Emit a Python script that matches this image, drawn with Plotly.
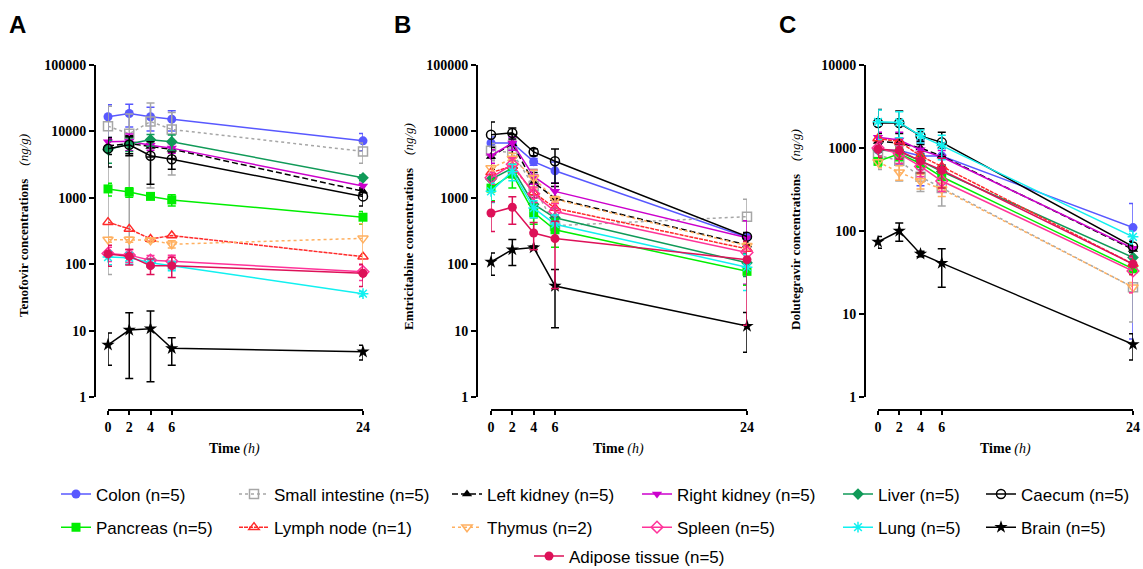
import plotly.graph_objects as go

W, H = 1143, 569

TIME = [0, 2, 4, 6, 24]
TIME_TICKS = [0, 2, 4, 6, 24]

TISSUES = ["Colon", "Small intestine", "Left kidney", "Right kidney", "Liver", "Caecum",
           "Pancreas", "Lymph node", "Thymus", "Spleen", "Lung", "Brain", "Adipose tissue"]
N_ANIMALS = [5, 5, 5, 5, 5, 5, 5, 1, 2, 5, 5, 5, 5]

# ---- Tenofovir (panel A), ng/g : mean and SD
TFV_MEAN = {
    "Colon": [16600, 18600, 16600, 15300, 7200],
    "Small intestine": [12000, 9200, 14100, 10700, 5000],
    "Left kidney": [6000, 6600, 5900, 5400, 1260],
    "Right kidney": [7000, 7100, 6200, 5600, 1500],
    "Liver": [5300, 6500, 7500, 7000, 2000],
    "Caecum": [5500, 6300, 4300, 3800, 1050],
    "Pancreas": [1360, 1220, 1050, 930, 510],
    "Lymph node": [430, 340, 240, 270, 130],
    "Thymus": [235, 235, 230, 200, 245],
    "Spleen": [145, 137, 115, 111, 77],
    "Lung": [128, 125, 105, 95, 36],
    "Brain": [6.1, 10.2, 10.7, 5.4, 4.8],
    "Adipose tissue": [143, 132, 95, 95, 73],
}
TFV_SD = {
    "Colon": [8500, 7000, 6500, 5200, 2100],
    "Small intestine": [11930, 9100, 12700, 8500, 1700],
    "Left kidney": [1500, 2000, 1800, 1500, 150],
    "Right kidney": [800, 2000, 1000, 900, 150],
    "Liver": [2000, 1500, 1500, 1800, 200],
    "Caecum": [2600, 2000, 2700, 1100, 300],
    "Pancreas": [300, 200, 60, 180, 110],
    "Lymph node": [0, 0, 0, 0, 0],
    "Thymus": [20, 20, 15, 25, 160],
    "Spleen": [35, 30, 20, 25, 20],
    "Lung": [30, 25, 15, 15, 3],
    "Brain": [3.1, 8.3, 9, 2.4, 1.2],
    "Adipose tissue": [50, 35, 25, 32, 27],
}

# ---- Emtricitabine (panel B)
FTC_MEAN = {
    "Colon": [6700, 6700, 3500, 2550, 255],
    "Small intestine": [5100, 4800, 1500, 380, 520],
    "Left kidney": [4200, 6500, 1700, 980, 195],
    "Right kidney": [4300, 6700, 2100, 1250, 250],
    "Liver": [1900, 2800, 800, 500, 105],
    "Caecum": [8900, 9500, 4900, 3550, 260],
    "Pancreas": [1400, 2300, 600, 330, 78],
    "Lymph node": [2400, 3000, 1200, 700, 170],
    "Thymus": [2800, 3900, 2000, 950, 190],
    "Spleen": [2000, 3200, 1150, 620, 150],
    "Lung": [1250, 2500, 700, 400, 90],
    "Brain": [108, 166, 178, 47, 11.7],
    "Adipose tissue": [590, 720, 295, 243, 117],
}
FTC_SD = {
    "Colon": [1500, 1500, 400, 900, 40],
    "Small intestine": [1500, 2500, 1200, 150, 430],
    "Left kidney": [1500, 2500, 700, 500, 50],
    "Right kidney": [1000, 1500, 500, 400, 200],
    "Liver": [500, 800, 300, 200, 40],
    "Caecum": [5000, 1800, 600, 1900, 40],
    "Pancreas": [500, 900, 200, 150, 30],
    "Lymph node": [0, 0, 0, 0, 0],
    "Thymus": [300, 800, 600, 100, 20],
    "Spleen": [400, 800, 300, 200, 40],
    "Lung": [400, 700, 200, 150, 50],
    "Brain": [40, 70, 10, 36, 7],
    "Adipose tissue": [280, 320, 130, 200, 105],
}

# ---- Dolutegravir (panel C)
DTG_MEAN = {
    "Colon": [950, 930, 800, 800, 110],
    "Small intestine": [820, 700, 450, 330, 21],
    "Left kidney": [1200, 1150, 1000, 800, 60],
    "Right kidney": [1350, 1250, 950, 780, 62],
    "Liver": [950, 900, 700, 520, 48],
    "Caecum": [2000, 2000, 1400, 1170, 65],
    "Pancreas": [690, 850, 650, 450, 35],
    "Lymph node": [1300, 1200, 800, 600, 40],
    "Thymus": [680, 510, 400, 320, 21],
    "Spleen": [1000, 850, 600, 400, 33],
    "Lung": [2070, 2030, 1400, 1070, 85],
    "Brain": [74, 100, 53, 41, 4.3],
    "Adipose tissue": [970, 930, 700, 540, 40],
}
DTG_SD = {
    "Colon": [300, 300, 450, 200, 105],
    "Small intestine": [270, 300, 150, 130, 13],
    "Left kidney": [300, 350, 200, 200, 10],
    "Right kidney": [200, 300, 200, 150, 15],
    "Liver": [150, 150, 150, 100, 8],
    "Caecum": [900, 800, 300, 380, 10],
    "Pancreas": [100, 150, 150, 120, 5],
    "Lymph node": [0, 0, 0, 0, 0],
    "Thymus": [100, 100, 80, 60, 3],
    "Spleen": [200, 200, 150, 100, 15],
    "Lung": [800, 700, 250, 350, 15],
    "Brain": [12, 25, 4, 20, 1.5],
    "Adipose tissue": [200, 200, 200, 210, 10],
}

DRUGS = ["Tenofovir", "Emtricitabine", "Dolutegravir"]
PANEL_LETTERS = ["A", "B", "C"]
Y_TICKS_AB = [1, 10, 100, 1000, 10000, 100000]
Y_TICKS_C = [1, 10, 100, 1000, 10000]

# ---- styles
COLORS = {
    "Colon": "#5858FF", "Small intestine": "#A6A6A6", "Left kidney": "#000000",
    "Right kidney": "#CC00CC", "Liver": "#109A58", "Caecum": "#000000",
    "Pancreas": "#00EE00", "Lymph node": "#FF2A2A", "Thymus": "#FFB060",
    "Spleen": "#FF3399", "Lung": "#11F0F0", "Brain": "#000000", "Adipose tissue": "#DD1158",
}
SYMBOLS = {
    "Colon": "circle", "Small intestine": "square-open", "Left kidney": "triangle-up",
    "Right kidney": "triangle-down", "Liver": "diamond", "Caecum": "circle-open",
    "Pancreas": "square", "Lymph node": "triangle-up-open", "Thymus": "triangle-down-open",
    "Spleen": "diamond-open", "Lung": "asterisk-open", "Brain": "star", "Adipose tissue": "circle",
}
DASHES = {
    "Small intestine": "dot", "Thymus": "dot", "Left kidney": "6px,3px", "Lymph node": "4px,1px",
}
LEGEND_OF = {
    "Colon": "legend", "Pancreas": "legend",
    "Small intestine": "legend2", "Lymph node": "legend2",
    "Left kidney": "legend3", "Thymus": "legend3",
    "Right kidney": "legend4", "Spleen": "legend4",
    "Liver": "legend5", "Lung": "legend5",
    "Caecum": "legend6", "Brain": "legend6",
    "Adipose tissue": "legend7",
}

SERIF = "Liberation Serif, Times New Roman, serif"
SANS = "Liberation Sans, Arial, sans-serif"

def px(x):
    return x / W

def py(y):
    return 1 - y / H

# panel geometry (pixels)
Y_AXIS_X = [95, 477, 865]
X_DOM = [(108, 363), (491, 747), (878, 1133)]
Y_TOP, Y_BOT, X_LINE = 65, 397, 410

fig = go.Figure()
data_sets = [(TFV_MEAN, TFV_SD), (FTC_MEAN, FTC_SD), (DTG_MEAN, DTG_SD)]

for p, (means, sds) in enumerate(data_sets):
    xa = "x" if p == 0 else f"x{p+1}"
    ya = "y" if p == 0 else f"y{p+1}"
    for t, n in zip(TISSUES, N_ANIMALS):
        c = COLORS[t]
        sym = SYMBOLS[t]
        is_open = sym.endswith("open")
        has_err = any(v > 0 for v in sds[t])
        fig.add_trace(go.Scatter(
            x=TIME, y=means[t], xaxis=xa, yaxis=ya,
            mode="lines+markers",
            name=f"{t} (n={n})",
            legend=LEGEND_OF[t], legendgroup=t, showlegend=(p == 0),
            line=dict(color=c, width=1.5, dash=DASHES.get(t, "solid")),
            marker=dict(symbol=sym, size=9 if sym != "star" else 10, color=c,
                        line=dict(color=c, width=1.5 if is_open else 0)),
            error_y=dict(type="data", array=sds[t], visible=has_err,
                         color=c, thickness=1.5, width=4),
            cliponaxis=False,
        ))

axis_common = dict(showline=True, linecolor="black", linewidth=2, showgrid=False,
                   zeroline=False, ticks="outside", tickcolor="black", tickwidth=2,
                   ticklen=5, tickfont=dict(family=SERIF, size=14, color="black"))

layout = dict(
    width=W, height=H, margin=dict(l=0, r=0, t=0, b=0, pad=0, autoexpand=False),
    paper_bgcolor="white", plot_bgcolor="white",
)
for p in range(3):
    xk = "xaxis" if p == 0 else f"xaxis{p+1}"
    yk = "yaxis" if p == 0 else f"yaxis{p+1}"
    yt = Y_TICKS_AB if p < 2 else Y_TICKS_C
    layout[xk] = dict(axis_common, domain=[px(X_DOM[p][0]), px(X_DOM[p][1])],
                      range=[0, 24], anchor="free", position=py(X_LINE), ticklen=4,
                      tickvals=TIME_TICKS, ticktext=[f"<b>{v}</b>" for v in TIME_TICKS])
    layout[yk] = dict(axis_common, type="log", range=[0, 5 if p < 2 else 4],
                      domain=[py(Y_BOT), py(Y_TOP)], anchor="free", position=px(Y_AXIS_X[p]),
                      tickvals=yt, ticktext=[f"<b>{v}</b>" for v in yt])

# legends: one per column
LEG_COLS = {"legend": 56, "legend2": 234, "legend3": 447, "legend4": 637,
            "legend5": 838, "legend6": 981, "legend7": 529}
for lk, x0 in LEG_COLS.items():
    top = 476.5 if lk != "legend7" else 538.5
    layout[lk] = dict(x=px(x0), y=py(top), xanchor="left", yanchor="top",
                      orientation="v", bgcolor="rgba(0,0,0,0)", borderwidth=0,
                      tracegroupgap=8, font=dict(family=SANS, size=17, color="black"),
                      traceorder="grouped")

fig.update_layout(**layout)

# annotations: panel letters, axis titles
X_TITLE_C = [234, 618, 1005]
Y_TITLE_X = [23, 408, 795]
Y_TITLE_C = [226, 227, 229]
for p in range(3):
    fig.add_annotation(x=px([17, 402, 787][p]), y=py(24), xref="paper", yref="paper",
                       xanchor="center", yanchor="middle",
                       text=f"<b>{PANEL_LETTERS[p]}</b>", showarrow=False,
                       font=dict(family=SANS, size=24, color="black"))
    fig.add_annotation(x=px(X_TITLE_C[p]), y=py(449), xref="paper", yref="paper",
                       xanchor="center", yanchor="middle",
                       text="<b>Time</b> <i>(h)</i>", showarrow=False,
                       font=dict(family=SERIF, size=14, color="black"))
    fig.add_annotation(x=px(Y_TITLE_X[p]), y=py(Y_TITLE_C[p]), xref="paper", yref="paper",
                       xanchor="center", yanchor="middle",
                       text=f"<b>{DRUGS[p]} concentrations</b>    <i>(ng/g)</i>",
                       textangle=-90, showarrow=False,
                       font=dict(family=SERIF, size=13, color="black"))

fig.write_html("out.html", config={"displayModeBar": False},
               post_script="document.body.style.margin='0';document.body.style.overflow='hidden';")
